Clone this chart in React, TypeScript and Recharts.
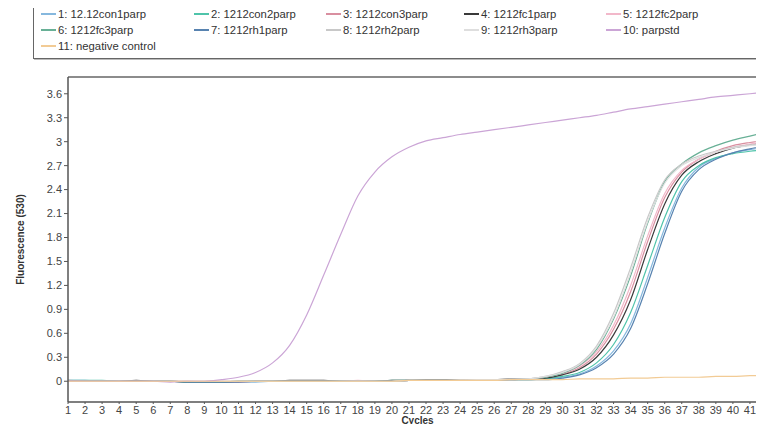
import { LineChart, Line, XAxis, YAxis, ReferenceLine, Label } from "recharts";

const cycles = [1, 2, 3, 4, 5, 6, 7, 8, 9, 10, 11, 12, 13, 14, 15, 16, 17, 18, 19, 20, 21, 22, 23, 24, 25, 26, 27, 28, 29, 30, 31, 32, 33, 34, 35, 36, 37, 38, 39, 40, 41, 42];
const yTicks = [0, 0.3, 0.6, 0.9, 1.2, 1.5, 1.8, 2.1, 2.4, 2.7, 3, 3.3, 3.6];

const con1 = [0.01, 0.01, 0.0, 0.0, 0.0, 0.0, 0.0, -0.01, -0.01, -0.01, -0.01, -0.01, 0.0, 0.0, 0.0, 0.0, 0.0, 0.0, 0.0, 0.0, 0.01, 0.01, 0.01, 0.01, 0.01, 0.02, 0.02, 0.02, 0.03, 0.05, 0.09, 0.19, 0.38, 0.72, 1.3, 1.92, 2.42, 2.68, 2.79, 2.86, 2.9, 2.93];
const con2 = [0.01, 0.01, 0.01, 0.0, 0.0, 0.0, 0.0, -0.01, -0.01, -0.01, 0.0, 0.0, 0.0, 0.0, 0.0, 0.0, 0.0, 0.0, 0.0, 0.01, 0.01, 0.01, 0.01, 0.01, 0.02, 0.02, 0.02, 0.02, 0.03, 0.06, 0.11, 0.23, 0.46, 0.86, 1.45, 2.05, 2.5, 2.7, 2.8, 2.85, 2.88, 2.9];
const con3 = [0.01, 0.0, 0.0, 0.0, 0.0, 0.0, 0.0, 0.0, -0.01, -0.01, -0.01, 0.0, 0.0, 0.0, 0.0, 0.0, 0.0, 0.0, 0.0, 0.0, 0.01, 0.01, 0.01, 0.01, 0.01, 0.02, 0.02, 0.03, 0.05, 0.09, 0.17, 0.34, 0.65, 1.12, 1.75, 2.3, 2.62, 2.78, 2.88, 2.95, 2.99, 3.02];
const fc1 = [0.0, 0.0, 0.0, 0.0, 0.01, 0.0, 0.0, -0.01, -0.01, -0.01, 0.0, 0.0, 0.0, 0.01, 0.01, 0.01, 0.0, 0.0, 0.0, 0.01, 0.01, 0.02, 0.02, 0.02, 0.02, 0.02, 0.03, 0.03, 0.04, 0.08, 0.15, 0.3, 0.58, 1.02, 1.65, 2.22, 2.58, 2.75, 2.85, 2.92, 2.96, 2.99];
const fc2 = [0.0, 0.0, 0.0, 0.0, 0.0, 0.0, 0.0, 0.0, 0.0, 0.0, 0.0, 0.0, 0.0, 0.0, 0.0, 0.0, 0.0, 0.01, 0.0, 0.0, 0.01, 0.01, 0.01, 0.01, 0.02, 0.02, 0.02, 0.03, 0.05, 0.1, 0.19, 0.37, 0.7, 1.2, 1.82, 2.35, 2.64, 2.78, 2.87, 2.93, 2.97, 3.0];
const fc3 = [0.0, 0.0, 0.0, 0.0, 0.0, 0.0, 0.0, -0.01, -0.01, -0.01, 0.0, 0.0, 0.0, 0.0, 0.0, 0.0, 0.0, 0.0, 0.0, 0.0, 0.01, 0.01, 0.01, 0.01, 0.01, 0.02, 0.02, 0.03, 0.05, 0.1, 0.2, 0.4, 0.78, 1.32, 1.98, 2.5, 2.72, 2.86, 2.95, 3.02, 3.07, 3.12];
const rh1 = [0.0, 0.0, 0.0, 0.0, 0.0, 0.0, 0.0, -0.01, -0.01, -0.01, -0.01, 0.0, 0.0, 0.0, 0.0, 0.0, 0.0, 0.0, 0.0, 0.0, 0.01, 0.01, 0.01, 0.01, 0.01, 0.01, 0.02, 0.02, 0.02, 0.04, 0.08, 0.17, 0.34, 0.66, 1.22, 1.85, 2.38, 2.65, 2.78, 2.86, 2.91, 2.95];
const rh2 = [0.0, 0.0, 0.0, 0.0, 0.0, 0.0, 0.0, 0.0, 0.0, 0.0, 0.0, 0.0, 0.0, 0.0, 0.0, 0.0, 0.0, 0.0, 0.0, 0.0, 0.01, 0.01, 0.01, 0.02, 0.02, 0.02, 0.03, 0.03, 0.06, 0.12, 0.22, 0.44, 0.85, 1.42, 2.05, 2.52, 2.72, 2.82, 2.88, 2.93, 2.96, 2.98];
const rh3 = [0.0, 0.0, 0.0, 0.0, 0.0, 0.0, 0.0, 0.0, 0.0, 0.0, 0.0, 0.0, 0.0, 0.0, 0.0, 0.0, 0.0, 0.0, 0.0, 0.0, 0.01, 0.01, 0.01, 0.01, 0.02, 0.02, 0.02, 0.03, 0.06, 0.11, 0.21, 0.42, 0.8, 1.36, 2.0, 2.48, 2.7, 2.8, 2.87, 2.92, 2.95, 2.97];
const parpstd = [0.0, 0.0, 0.0, 0.0, 0.0, 0.0, -0.01, 0.0, 0.0, 0.02, 0.05, 0.11, 0.23, 0.45, 0.83, 1.33, 1.84, 2.32, 2.62, 2.81, 2.93, 3.01, 3.05, 3.09, 3.12, 3.15, 3.18, 3.21, 3.24, 3.27, 3.3, 3.33, 3.37, 3.41, 3.44, 3.47, 3.5, 3.53, 3.56, 3.58, 3.6, 3.62];
const negControl = [0.0, 0.0, 0.0, 0.0, 0.0, 0.0, 0.0, 0.0, 0.0, 0.0, 0.0, 0.0, 0.0, 0.0, 0.0, 0.0, 0.0, 0.0, 0.0, 0.0, 0.01, 0.01, 0.01, 0.01, 0.01, 0.01, 0.02, 0.02, 0.02, 0.02, 0.03, 0.03, 0.03, 0.04, 0.04, 0.05, 0.05, 0.05, 0.06, 0.06, 0.07, 0.07];

const series = [
  { key: "s1", name: "1: 12.12con1parp", values: con1, color: "#86b8de" },
  { key: "s2", name: "2: 1212con2parp", values: con2, color: "#4fc4aa" },
  { key: "s3", name: "3: 1212con3parp", values: con3, color: "#d98fa0" },
  { key: "s4", name: "4: 1212fc1parp", values: fc1, color: "#3a3a3a" },
  { key: "s5", name: "5: 1212fc2parp", values: fc2, color: "#f2b8ca" },
  { key: "s6", name: "6: 1212fc3parp", values: fc3, color: "#68b096" },
  { key: "s7", name: "7: 1212rh1parp", values: rh1, color: "#5883b0" },
  { key: "s8", name: "8: 1212rh2parp", values: rh2, color: "#c8c8c8" },
  { key: "s9", name: "9: 1212rh3parp", values: rh3, color: "#dedede" },
  { key: "s10", name: "10: parpstd", values: parpstd, color: "#cba5d6" },
  { key: "s11", name: "11: negative control", values: negControl, color: "#f2cb95" },
];

const data = cycles.map((c, i) => {
  const row: Record<string, number> = { cycle: c };
  series.forEach((s) => (row[s.key] = s.values[i]));
  return row;
});

const legendCols = [40, 193, 325, 463, 605];
const font = "Arial, 'Liberation Sans', sans-serif";

function LegendBox() {
  return (
    <div
      style={{
        position: "absolute",
        left: 33,
        top: 6,
        width: 728,
        height: 53,
        border: "1px solid #666",
        boxShadow: "1px 1px 0 #bbb",
        background: "#fff",
        fontFamily: font,
        fontSize: 11.3,
        color: "#333",
        boxSizing: "border-box",
      }}
    >
      {series.map((s, i) => (
        <div
          key={s.key}
          style={{
            position: "absolute",
            left: legendCols[i % 5] - 33,
            top: 1 + Math.floor(i / 5) * 16,
            display: "flex",
            alignItems: "center",
            whiteSpace: "nowrap",
          }}
        >
          <span style={{ display: "inline-block", width: 15, height: 1.5, background: s.color, marginRight: 2 }} />
          {s.name}
        </div>
      ))}
    </div>
  );
}

export default function App() {
  return (
    <div style={{ position: "relative", margin: -8, width: 764, height: 432, overflow: "hidden", background: "#fff" }}>
      <LegendBox />
      <LineChart width={800} height={432} data={data} margin={{ top: 77, right: 33, bottom: 0, left: 0 }}>
        <XAxis
          dataKey="cycle"
          type="number"
          domain={[1, 42]}
          ticks={cycles}
          interval={0}
          height={30}
          tickSize={2}
          axisLine={{ stroke: "#555", strokeWidth: 1.5 }}
          tickLine={{ stroke: "#555" }}
          tick={{ fill: "#444", fontSize: 11, fontFamily: font }}
        >
          <Label value="Cycles" position="bottom" offset={-15} style={{ fontFamily: font, fontSize: 10, fontWeight: "bold", fill: "#333" }} />
        </XAxis>
        <YAxis
          type="number"
          domain={[-0.26, 3.81]}
          ticks={yTicks}
          interval={0}
          width={68}
          tickSize={4}
          allowDataOverflow
          axisLine={{ stroke: "#555", strokeWidth: 1.5 }}
          tickLine={{ stroke: "#555" }}
          tick={{ fill: "#444", fontSize: 11, fontFamily: font }}
        >
          <Label
            value="Fluorescence (530)"
            angle={-90}
            position="insideLeft"
            offset={20}
            style={{ textAnchor: "middle", fontFamily: font, fontSize: 10, fontWeight: "bold", fill: "#333" }}
          />
        </YAxis>
        <ReferenceLine y={3.81} stroke="#666" strokeWidth={1.5} />
        {series.map((s) => (
          <Line
            key={s.key}
            dataKey={s.key}
            name={s.name}
            type="monotone"
            stroke={s.color}
            strokeWidth={1.2}
            dot={false}
            isAnimationActive={false}
          />
        ))}
      </LineChart>
    </div>
  );
}
